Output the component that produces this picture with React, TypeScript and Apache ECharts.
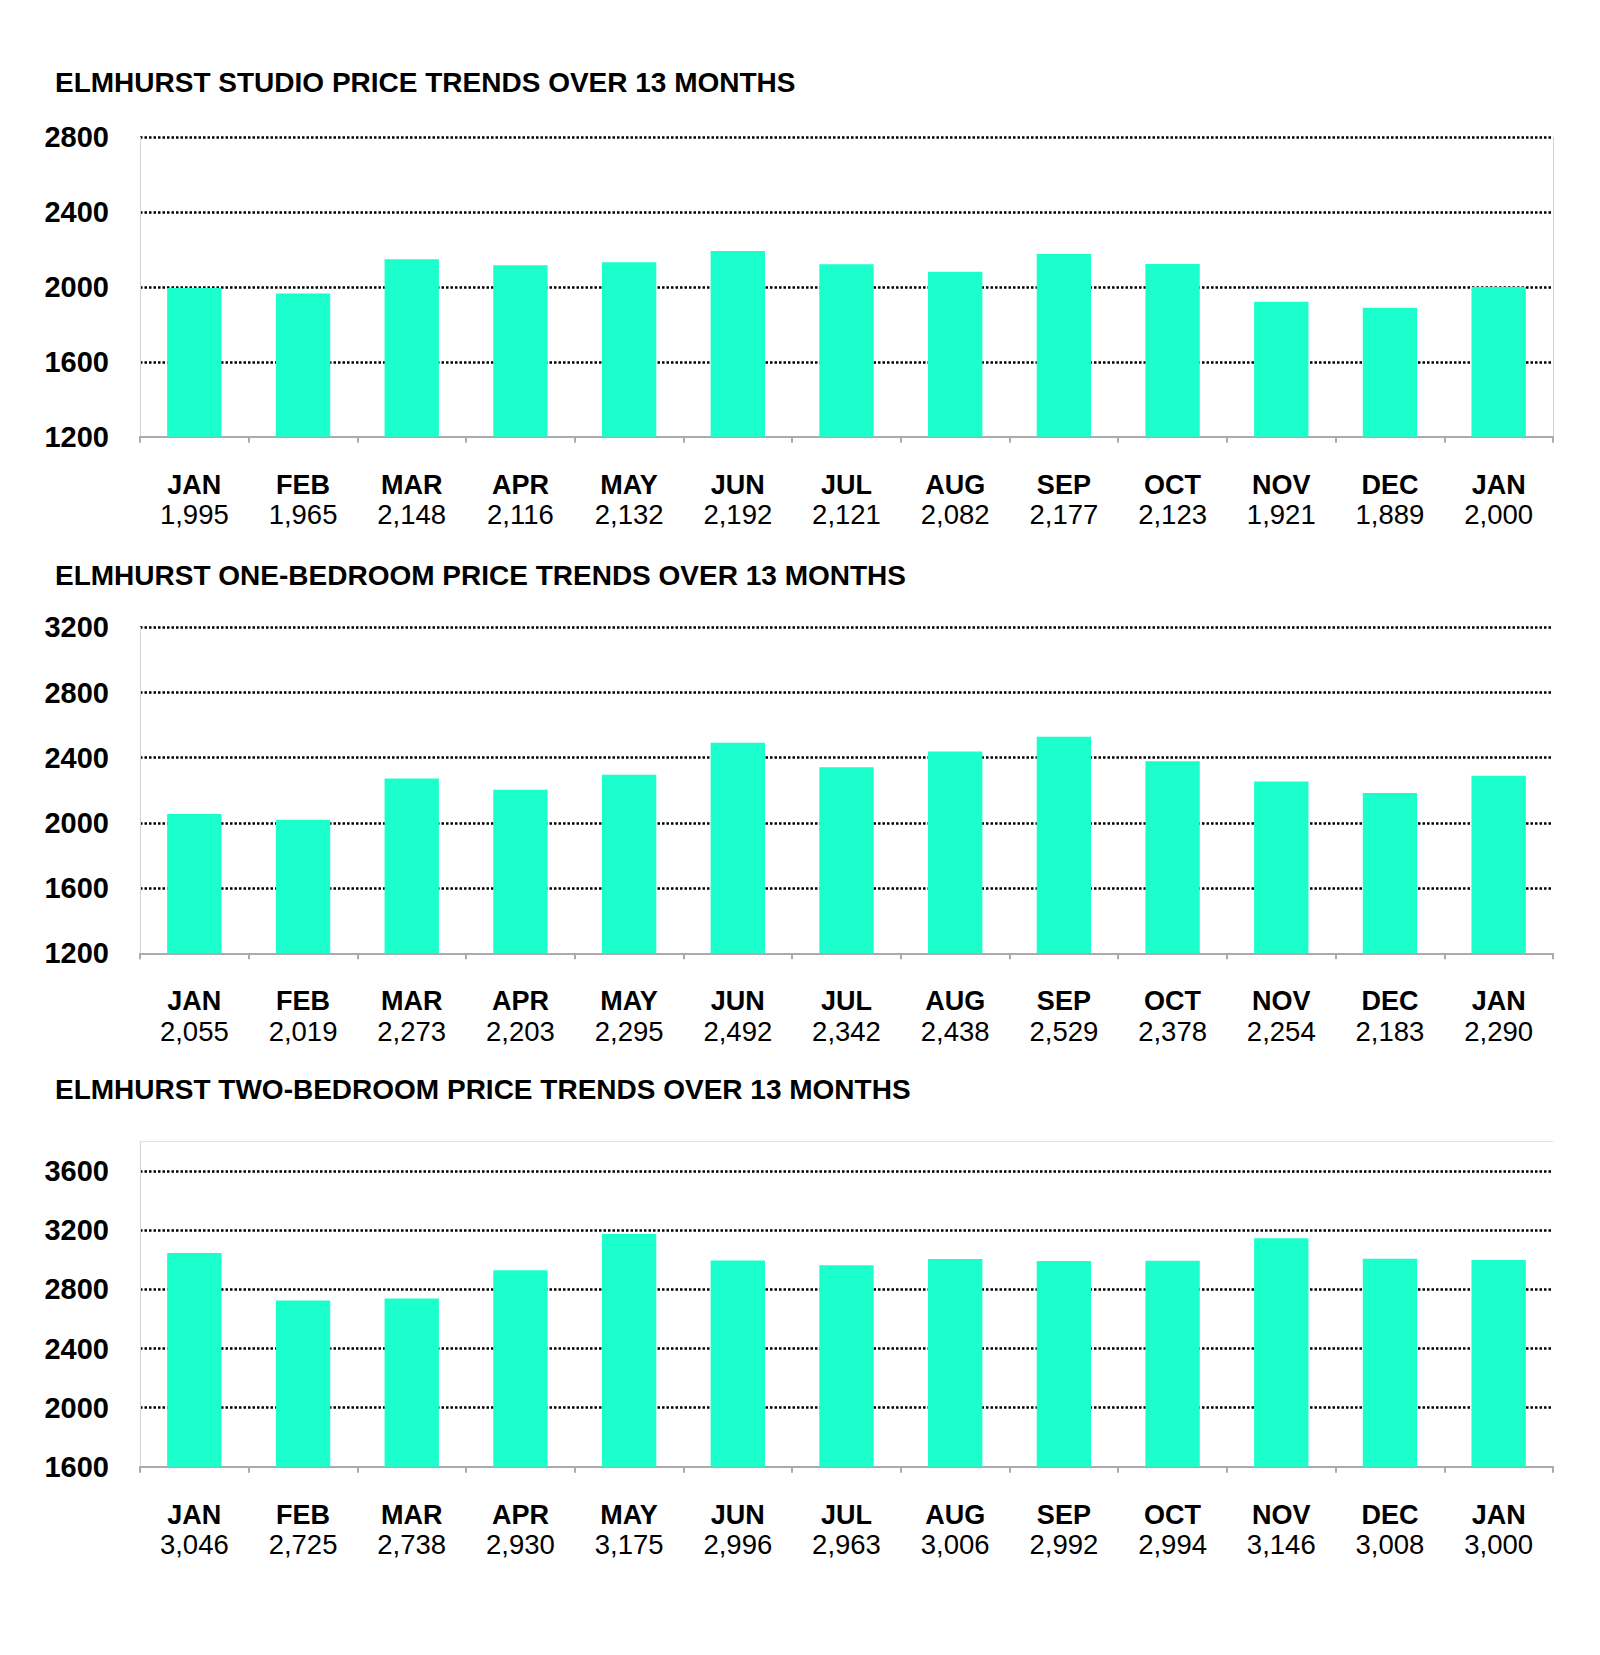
import React, { useEffect, useRef } from "react";
import * as echarts from "echarts";

const months = ["JAN", "FEB", "MAR", "APR", "MAY", "JUN", "JUL", "AUG", "SEP", "OCT", "NOV", "DEC", "JAN"];
const studioValues = [1995, 1965, 2148, 2116, 2132, 2192, 2121, 2082, 2177, 2123, 1921, 1889, 2000];
const oneBedValues = [2055, 2019, 2273, 2203, 2295, 2492, 2342, 2438, 2529, 2378, 2254, 2183, 2290];
const twoBedValues = [3046, 2725, 2738, 2930, 3175, 2996, 2963, 3006, 2992, 2994, 3146, 3008, 3000];
const titles = [
  "ELMHURST STUDIO PRICE TRENDS OVER 13 MONTHS",
  "ELMHURST ONE-BEDROOM PRICE TRENDS OVER 13 MONTHS",
  "ELMHURST TWO-BEDROOM PRICE TRENDS OVER 13 MONTHS",
];
const yRanges = [
  { min: 1200, max: 2800 },
  { min: 1200, max: 3200 },
  { min: 1600, max: 3800 },
];

const FONT = "'Liberation Sans', Arial, sans-serif";
const BAR = "#1AFFCC";

export default function App() {
  const ref = useRef<HTMLDivElement>(null);
  useEffect(() => {
    if (!ref.current) return;
    const chart = echarts.init(ref.current, undefined, { renderer: "svg" });
    const seriesData = [studioValues, oneBedValues, twoBedValues];
    const grids = [
      { left: 140, width: 1413, top: 137.3, height: 299.4 },
      { left: 140, width: 1413, top: 627.3, height: 326 },
      { left: 140, width: 1413, top: 1141.7, height: 325 },
    ];
    const titleTops = [68.5, 561, 1075];

    const xAxes: any[] = [];
    const yAxes: any[] = [];
    seriesData.forEach((vals, i) => {
      xAxes.push({
        type: "category",
        gridIndex: i,
        data: months,
        axisLine: { show: true, lineStyle: { color: "#ababab", width: 2 } },
        axisTick: { show: true, length: 6, lineStyle: { color: "#ababab", width: 2 } },
        axisLabel: {
          margin: 33,
          interval: 0,
          formatter: (v: string, idx: number) =>
            `{m|${v}}\n{v|${vals[idx].toLocaleString("en-US")}}`,
          rich: {
            m: { fontFamily: FONT, fontWeight: "bold", fontSize: 27, lineHeight: 30, color: "#000" },
            v: { fontFamily: FONT, fontSize: 27.5, lineHeight: 30, color: "#000" },
          },
        },
        splitLine: { show: false },
      });
      yAxes.push({
        type: "value",
        gridIndex: i,
        min: yRanges[i].min,
        max: yRanges[i].max,
        interval: 400,
        axisLine: { show: true, lineStyle: { color: "#d4d4d4", width: 1 } },
        axisTick: { show: false },
        axisLabel: {
          margin: 31,
          fontFamily: FONT,
          fontWeight: "bold",
          fontSize: 29,
          color: "#000",
          showMaxLabel: i !== 2,
          formatter: (v: number) => String(v),
        },
        splitLine: {
          show: true,
          showMinLine: false,
          showMaxLine: i !== 2,
          lineStyle: { color: "#000", width: 2.5, type: [2.5, 2] },
        },
      });
    });
    // Chart 1 right border
    yAxes.push({
      type: "value",
      gridIndex: 0,
      position: "right",
      min: yRanges[0].min,
      max: yRanges[0].max,
      interval: 400,
      axisLine: { show: true, lineStyle: { color: "#d4d4d4", width: 1 } },
      axisTick: { show: false },
      axisLabel: { show: false },
      splitLine: { show: false },
    });
    // Chart 3 top border
    xAxes.push({
      type: "category",
      gridIndex: 2,
      position: "top",
      data: months,
      axisLine: { show: true, lineStyle: { color: "#e2e2e2", width: 1 } },
      axisTick: { show: false },
      axisLabel: { show: false },
      splitLine: { show: false },
    });

    chart.setOption({
      animation: false,
      backgroundColor: "#fff",
      title: titles.map((t, i) => ({
        text: t,
        left: 55,
        top: titleTops[i],
        padding: 0,
        textStyle: { fontFamily: FONT, fontWeight: "bold", fontSize: 28, color: "#000" },
      })),
      grid: grids,
      xAxis: xAxes,
      yAxis: yAxes,
      series: seriesData.map((vals, i) => ({
        type: "bar",
        xAxisIndex: i,
        yAxisIndex: i,
        data: vals,
        barWidth: "50%",
        itemStyle: { color: BAR },
        silent: true,
      })),
    });
    return () => chart.dispose();
  }, []);
  return (
    <div
      ref={ref}
      style={{ position: "absolute", left: 0, top: 0, width: 1600, height: 1655 }}
    />
  );
}
